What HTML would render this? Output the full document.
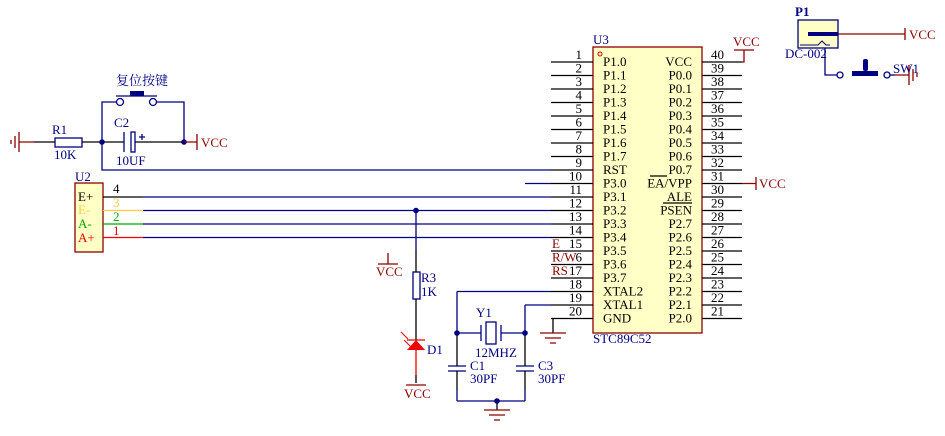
<!DOCTYPE html>
<html><head><meta charset="utf-8"><style>
html,body{margin:0;padding:0;background:#fff;}
svg{display:block;font-family:"Liberation Serif","Noto Serif CJK SC",serif;}
</style></head><body>
<svg width="945" height="436" viewBox="0 0 945 436" xmlns="http://www.w3.org/2000/svg">
<g stroke-width="1.3" fill="none">
<rect x="593" y="47" width="109" height="286" fill="#ffffc6" stroke="#8b0000"/>
<circle cx="600" cy="54" r="2" stroke="#e00000" stroke-width="1"/>
<g stroke="#000">
<line x1="551" y1="62" x2="593" y2="62"/><line x1="551" y1="75.5" x2="593" y2="75.5"/>
<line x1="551" y1="89" x2="593" y2="89"/><line x1="551" y1="102.5" x2="593" y2="102.5"/>
<line x1="551" y1="116" x2="593" y2="116"/><line x1="551" y1="129.5" x2="593" y2="129.5"/>
<line x1="551" y1="143" x2="593" y2="143"/><line x1="551" y1="156.5" x2="593" y2="156.5"/>
<line x1="551" y1="170" x2="593" y2="170"/><line x1="551" y1="183.5" x2="593" y2="183.5"/>
<line x1="551" y1="197" x2="593" y2="197"/><line x1="551" y1="210.5" x2="593" y2="210.5"/>
<line x1="551" y1="224" x2="593" y2="224"/><line x1="551" y1="237.5" x2="593" y2="237.5"/>
<line x1="551" y1="251" x2="593" y2="251"/><line x1="551" y1="264.5" x2="593" y2="264.5"/>
<line x1="551" y1="278" x2="593" y2="278"/><line x1="551" y1="291.5" x2="593" y2="291.5"/>
<line x1="551" y1="305" x2="593" y2="305"/><line x1="551" y1="318.5" x2="593" y2="318.5"/>
<line x1="702" y1="62" x2="742" y2="62"/><line x1="702" y1="75.5" x2="742" y2="75.5"/>
<line x1="702" y1="89" x2="742" y2="89"/><line x1="702" y1="102.5" x2="742" y2="102.5"/>
<line x1="702" y1="116" x2="742" y2="116"/><line x1="702" y1="129.5" x2="742" y2="129.5"/>
<line x1="702" y1="143" x2="742" y2="143"/><line x1="702" y1="156.5" x2="742" y2="156.5"/>
<line x1="702" y1="170" x2="742" y2="170"/><line x1="702" y1="183.5" x2="742" y2="183.5"/>
<line x1="702" y1="197" x2="742" y2="197"/><line x1="702" y1="210.5" x2="742" y2="210.5"/>
<line x1="702" y1="224" x2="742" y2="224"/><line x1="702" y1="237.5" x2="742" y2="237.5"/>
<line x1="702" y1="251" x2="742" y2="251"/><line x1="702" y1="264.5" x2="742" y2="264.5"/>
<line x1="702" y1="278" x2="742" y2="278"/><line x1="702" y1="291.5" x2="742" y2="291.5"/>
<line x1="702" y1="305" x2="742" y2="305"/><line x1="702" y1="318.5" x2="742" y2="318.5"/>
<line x1="650" y1="176" x2="667" y2="176"/><line x1="663" y1="203" x2="692" y2="203"/>
</g>
<g stroke="#8b0000"><path d="M742 62 H744 V50 M734 50 H754"/><path d="M742 183.5 H756 M756 177 V190"/></g>
<g stroke="#000080">
<path d="M102 142 V170 H551"/>
<line x1="525" y1="183.5" x2="551" y2="183.5"/>
<line x1="143" y1="197" x2="551" y2="197"/><line x1="143" y1="210.5" x2="551" y2="210.5"/>
<line x1="143" y1="224" x2="551" y2="224"/><line x1="143" y1="237.5" x2="551" y2="237.5"/>
<path d="M416 210 V250"/>
<path d="M457 291.5 H551"/><path d="M525 305 H551"/>
<path d="M457 291.5 V333 M525 305 V333"/>
<path d="M457 401 H525 M457 390 V401 M525 390 V401"/>
<path d="M102 142 V102 H117 M157 102 H184 V142"/>
<rect x="55" y="138" width="27" height="9"/>
<rect x="413" y="272" width="7" height="27"/>
<path d="M457 333 H481 M501 333 H525"/>
<path d="M481 325 V341 M501 325 V341"/><rect x="486" y="322" width="10" height="22"/>
<path d="M448 366 H466 M448 371 H466 M516 366 H534 M516 371 H534"/>
</g>
<g stroke="#000"><path d="M34 142 H55 M82 142 H124 M135 142 H184 M416 250 V272 M416 299 V340 M416 375 V383 M457 333 V366 M457 371 V390 M525 333 V366 M525 371 V390 M497 401 V410 M553 318.5 V333"/></g>
<g stroke="#000080"><line x1="124" y1="132" x2="124" y2="152"/><rect x="131" y="132" width="4" height="20"/><path d="M139 137 H145 M142 134 V140"/></g>
<g fill="#000080"><circle cx="102" cy="142" r="2.8"/><circle cx="184" cy="142" r="2.8"/><circle cx="416" cy="210.5" r="2.8"/><circle cx="457" cy="333" r="2.8"/><circle cx="525" cy="333" r="2.8"/><circle cx="497" cy="401" r="2.8"/></g>
<g stroke="#000080"><circle cx="120" cy="102" r="3.5"/><circle cx="153" cy="102" r="3.5"/><line x1="116" y1="96" x2="157" y2="96"/></g>
<rect x="130" y="91" width="14" height="5" fill="#000080"/>
<g stroke="#8b0000"><path d="M19 132 V152 M15 136 V148 M11 140 V144 M34 142 H19"/>
<path d="M197 134 V150 M184 142 H197"/>
<path d="M388 253 V264 M378 264 H398"/>
<path d="M406 385 H426"/>
<path d="M484 410 H510 M489 415 H505 M494 420 H500"/>
<path d="M540 333 H566 M545 338 H561 M550 343 H556"/>
<path d="M838 34 H905 M905 28 V40"/>
<path d="M895 75 H909 M909 65 V85 M913 69 V81 M917 73 V77"/>
</g>
<rect x="75" y="183" width="28" height="69" fill="#ffffc6" stroke="#8b0000"/>
<line x1="103" y1="197" x2="143" y2="197" stroke="#000"/>
<line x1="103" y1="210.5" x2="143" y2="210.5" stroke="#ffcc40"/>
<line x1="103" y1="224" x2="143" y2="224" stroke="#00aa00"/>
<line x1="103" y1="237.5" x2="143" y2="237.5" stroke="#ee0000"/>
<polygon points="416,340 407,350 425,350" fill="#ee0000"/>
<line x1="407" y1="340" x2="425" y2="340" stroke="#ee0000"/>
<line x1="416" y1="350" x2="416" y2="375" stroke="#ee0000"/>
<g stroke="#ee0000" stroke-width="1"><path d="M401 332 L408 339 M404 340 L411 347"/></g>
<rect x="798" y="20" width="40" height="28" fill="#ffffc6" stroke="#000080"/>
<rect x="808" y="32" width="30" height="4" fill="#000080"/>
<path d="M800 45 H818 L822 41 L826 45 H830" stroke="#000080" stroke-width="1"/>
<path d="M825 48 V75 H837" stroke="#000080"/>
<g stroke="#000080"><circle cx="840" cy="75" r="3"/><circle cx="887" cy="75" r="3"/><path d="M890 75 H895"/></g>
<rect x="852" y="71" width="26" height="5" fill="#000080"/>
<rect x="863" y="59" width="5" height="12" rx="2" fill="#000080"/>
</g>
<g font-size="13" fill="#000">
<g text-anchor="end">
<text x="582" y="59">1</text><text x="582" y="72.5">2</text><text x="582" y="86">3</text><text x="582" y="99.5">4</text><text x="582" y="113">5</text><text x="582" y="126.5">6</text><text x="582" y="140">7</text><text x="582" y="153.5">8</text><text x="582" y="167">9</text><text x="582" y="180.5">10</text><text x="582" y="194">11</text><text x="582" y="207.5">12</text><text x="582" y="221">13</text><text x="582" y="234.5">14</text><text x="582" y="248">15</text><text x="582" y="261.5">6</text><text x="582" y="275">17</text><text x="582" y="288.5">18</text><text x="582" y="302">19</text><text x="582" y="315.5">20</text>
<text x="692" y="66">VCC</text><text x="692" y="79.5">P0.0</text><text x="692" y="93">P0.1</text><text x="692" y="106.5">P0.2</text><text x="692" y="120">P0.3</text><text x="692" y="133.5">P0.4</text><text x="692" y="147">P0.5</text><text x="692" y="160.5">P0.6</text><text x="692" y="174">P0.7</text><text x="692" y="187.5">EA/VPP</text><text x="692" y="201">ALE</text><text x="692" y="214.5">PSEN</text><text x="692" y="228">P2.7</text><text x="692" y="241.5">P2.6</text><text x="692" y="255">P2.5</text><text x="692" y="268.5">P2.4</text><text x="692" y="282">P2.3</text><text x="692" y="295.5">P2.2</text><text x="692" y="309">P2.1</text><text x="692" y="322.5">P2.0</text>
</g>
<g>
<text x="603" y="66">P1.0</text><text x="603" y="79.5">P1.1</text><text x="603" y="93">P1.2</text><text x="603" y="106.5">P1.3</text><text x="603" y="120">P1.4</text><text x="603" y="133.5">P1.5</text><text x="603" y="147">P1.6</text><text x="603" y="160.5">P1.7</text><text x="603" y="174">RST</text><text x="603" y="187.5">P3.0</text><text x="603" y="201">P3.1</text><text x="603" y="214.5">P3.2</text><text x="603" y="228">P3.3</text><text x="603" y="241.5">P3.4</text><text x="603" y="255">P3.5</text><text x="603" y="268.5">P3.6</text><text x="603" y="282">P3.7</text><text x="603" y="295.5">XTAL2</text><text x="603" y="309">XTAL1</text><text x="603" y="322.5">GND</text>
<text x="711" y="59">40</text><text x="711" y="72.5">39</text><text x="711" y="86">38</text><text x="711" y="99.5">37</text><text x="711" y="113">36</text><text x="711" y="126.5">35</text><text x="711" y="140">34</text><text x="711" y="153.5">33</text><text x="711" y="167">32</text><text x="711" y="180.5">31</text><text x="711" y="194">30</text><text x="711" y="207.5">29</text><text x="711" y="221">28</text><text x="711" y="234.5">27</text><text x="711" y="248">26</text><text x="711" y="261.5">25</text><text x="711" y="275">24</text><text x="711" y="288.5">23</text><text x="711" y="302">22</text><text x="711" y="315.5">21</text>
<text x="113" y="193">4</text>
<text x="78" y="201">E+</text>
</g>
<g fill="#8b0000">
<text x="552" y="248">E</text><text x="552" y="261.5">R/W</text><text x="552" y="275">RS</text>
<text x="733" y="46">VCC</text><text x="759" y="188">VCC</text><text x="201" y="147">VCC</text>
<text x="376" y="276">VCC</text><text x="404" y="398">VCC</text><text x="909" y="39">VCC</text>
</g>
<g fill="#000080">
<text x="593" y="44">U3</text><text x="593" y="343">STC89C52</text>
<text x="75" y="181">U2</text>
<text x="52" y="134">R1</text><text x="54" y="159">10K</text>
<text x="114" y="127">C2</text><text x="116" y="165">10UF</text>
<text x="116" y="85" font-size="13">复位按键</text>
<text x="421" y="282">R3</text><text x="421" y="296">1K</text>
<text x="427" y="354">D1</text>
<text x="476" y="317">Y1</text><text x="475" y="357">12MHZ</text>
<text x="470" y="370">C1</text><text x="470" y="383">30PF</text>
<text x="538" y="370">C3</text><text x="538" y="383">30PF</text>
<text x="795" y="16" font-weight="bold">P1</text>
<text x="785" y="58">DC-002</text>
<text x="893" y="73">SW1</text>
</g>
<text x="113" y="207" fill="#ffcc40">3</text><text x="78" y="214" fill="#ffcc40">E-</text>
<text x="113" y="221" fill="#00aa00">2</text><text x="78" y="228" fill="#00aa00">A-</text>
<text x="113" y="235" fill="#ee0000">1</text><text x="78" y="242" fill="#ee0000">A+</text>
</g>
</svg>
</body></html>
